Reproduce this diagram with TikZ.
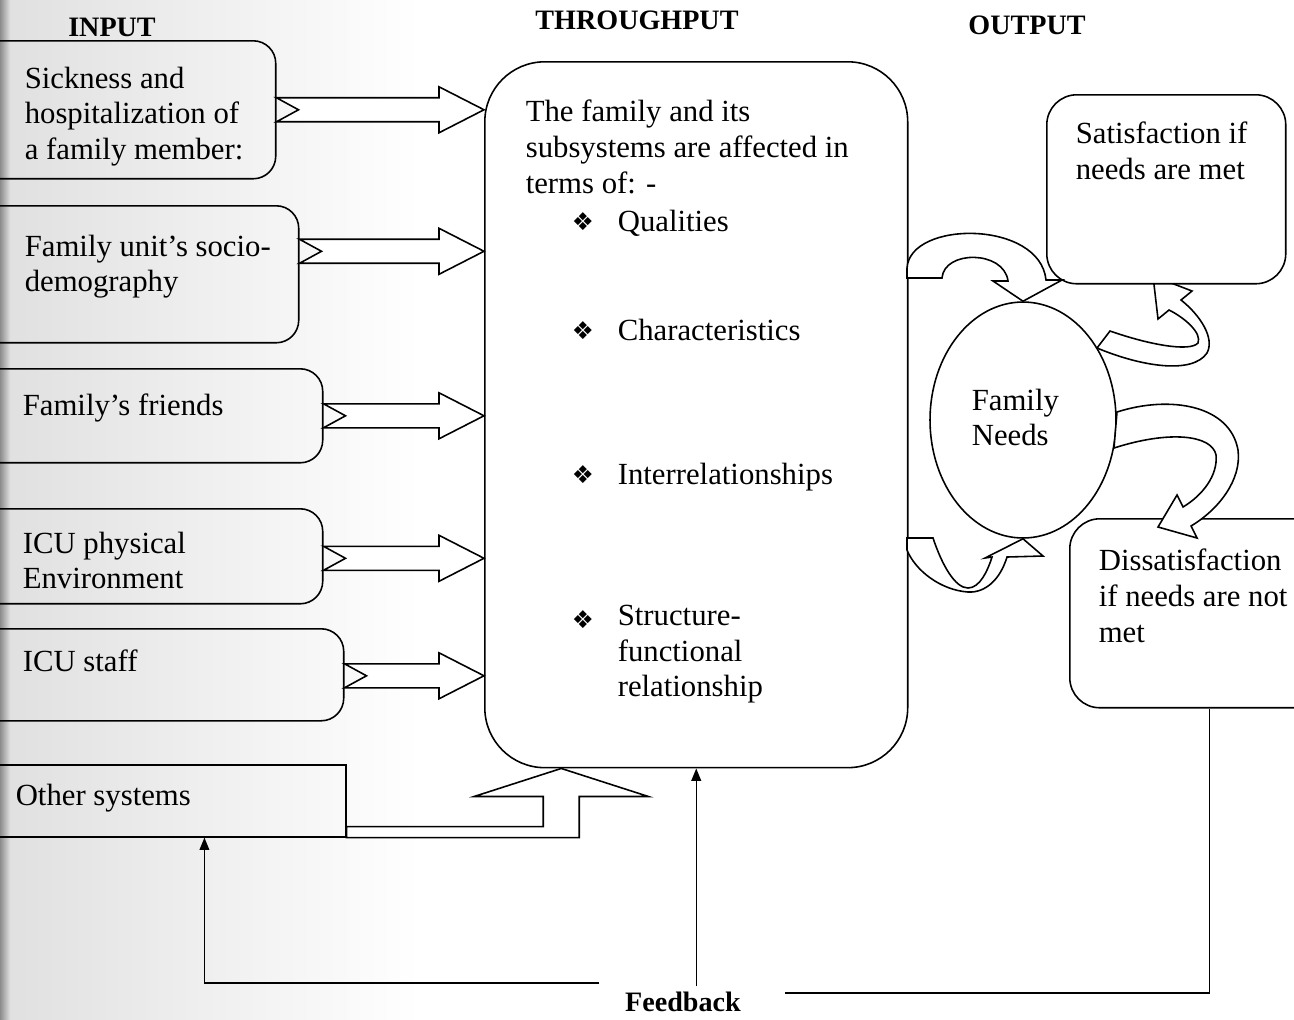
\documentclass[tikz,border=0pt]{standalone}
\usepackage{fontspec}
\setmainfont{Liberation Serif}
\newfontfamily\symfont{DejaVu Sans}
\usetikzlibrary{calc,positioning,shapes.geometric,arrows.meta}

% straight hollow arrow with notched tail, from an input box to the throughput box
\newcommand\fatarrow[2]{%
  \draw[fat] ($(#1.east)+(0,#2-\sw)$) -- ($(tp.west |- #1.east)+(-\hl,#2-\sw)$)
    -- ($(tp.west |- #1.east)+(-\hl,#2-\hw)$) -- ($(tp.west |- #1.east)+(0,#2)$)
    -- ($(tp.west |- #1.east)+(-\hl,#2+\hw)$) -- ($(tp.west |- #1.east)+(-\hl,#2+\sw)$)
    -- ($(#1.east)+(0,#2+\sw)$) -- ($(#1.east)+(\nd,#2)$) -- cycle;}

\begin{document}
\begin{tikzpicture}[x=0.02cm,y=-0.02cm,line width=0.9pt,
    every node/.style={inner sep=0pt},
    txt/.style={anchor=north west,align=left,font=\fontsize{17.5}{20.4}\selectfont,execute at begin node=\strut},
    hd/.style={font=\fontsize{16}{19}\selectfont\bfseries},
    inbox/.style={draw,rounded corners=0.45cm,anchor=north west},
    outbox/.style={draw,fill=white,rounded corners=0.6cm,anchor=north west},
    fat/.style={draw,fill=white,line join=miter},
    bul/.style={font=\symfont\fontsize{14}{16}\selectfont},
    fb/.style={line width=0.8pt},
    fbtip/.style={-{Triangle[length=7pt,width=5.5pt]}}]
    \pgfmathsetmacro\sw{12}
    \pgfmathsetmacro\hw{23}
    \pgfmathsetmacro\hl{45}
    \pgfmathsetmacro\nd{22}
    \useasboundingbox (0,0) rectangle (1294,1019);
    \clip (0,0) rectangle (1294,1019);
    % scanned page edge
    \shade[left color=black!45,right color=black!12] (0,0) rectangle (10,1019);
    \shade[left color=black!12,right color=white] (10,0) rectangle (420,1019);

    % input
    \node[inbox,minimum width=6.30cm,minimum height=2.76cm] (in1) at (-40,40) {};
    \node[inbox,minimum width=6.76cm,minimum height=2.74cm] (in2) at (-40,205) {};
    \node[inbox,minimum width=7.24cm,minimum height=1.88cm] (in3) at (-40,368) {};
    \node[inbox,minimum width=7.24cm,minimum height=1.90cm] (in4) at (-40,508) {};
    \node[inbox,minimum width=7.66cm,minimum height=1.84cm] (in5) at (-40,628) {};
    \node[inbox,sharp corners,minimum width=7.70cm,minimum height=1.44cm] (in6) at (-40,764) {};

    % throughput
    \node[outbox,rounded corners=1.2cm,minimum width=8.46cm,minimum height=14.12cm] (tp) at (484,61) {};
    \fatarrow{in1}{0}
    \fatarrow{in2}{-23}
    \fatarrow{in3}{0}
    \fatarrow{in4}{2}
    \fatarrow{in5}{1}
    \coordinate (ostip) at ($(tp.south)+(-135,0)$);
    \draw[fat] ($(in6.south east)+(0,-11)$) -| ($(ostip)+(-18,28)$) -- ($(ostip)+(-87,28)$)
        -- (ostip) -- ($(ostip)+(87,28)$) -- ($(ostip)+(18,28)$) |- (in6.south east) -- cycle;

    % output
    \node[draw,fill=white,ellipse,minimum width=3.72cm,minimum height=4.72cm] (needs) at (1023,420) {};
    \draw[fat] (1110,331) .. controls (1150,345) and (1190,352) .. (1198,343)
        .. controls (1202,333) and (1185,318) .. (1169,310) -- (1158,319) -- (1153,276)
        -- (1192,291) -- (1181,300) .. controls (1200,315) and (1215,338) .. (1207,353)
        .. controls (1192,375) and (1140,366) .. (1097,348) -- cycle;
    \node[outbox,minimum width=4.78cm,minimum height=3.78cm] (sat) at (1046,94) {};
    \node[outbox,minimum width=5.60cm,minimum height=3.78cm] (dis) at (1069,518) {};
    \draw[fat] (1117,412) .. controls (1170,395) and (1230,405) .. (1238,450)
        .. controls (1242,480) and (1218,510) .. (1191,526) -- (1197,538) -- (1158,527)
        -- (1177,495) -- (1183,507) .. controls (1203,495) and (1218,475) .. (1216,455)
        .. controls (1212,435) and (1170,430) .. (1114,448) -- cycle;
    \draw[fat] (907,278) -- (942,278) .. controls (944,250) and (1004,250) .. (1008,281)
        -- (993,281) -- (needs.north) -- (1062,280) -- (1046,280)
        .. controls (1040,220) and (910,220) .. (907,268) -- cycle;
    \draw[fat] (907,538) -- (933,538) .. controls (942,565) and (955,588) .. (968,588)
        .. controls (980,588) and (988,570) .. (992,557) -- (985,558) -- (needs.south)
        -- (1043,556) -- (1007,557) .. controls (1000,580) and (985,593) .. (968,592)
        .. controls (940,590) and (915,570) .. (907,550) -- cycle;

    % texts
    \node[hd] (hin) at (112,27) {INPUT};
    \node[hd] (htp) at (637,20) {THROUGHPUT};
    \node[hd] (hout) at (1027,25) {OUTPUT};
    \node[txt] (t1) at (24,66) {Sickness and\\hospitalization of\\a family member:};
    \node[txt] (t2) at (24,234) {Family unit’s socio-\\demography};
    \node[txt] (t3) at (22,390) {Family’s friends};
    \node[txt] (t4) at (22,531) {ICU physical\\Environment};
    \node[txt] (t5) at (22,646) {ICU staff};
    \node[txt] (t6) at (15,780) {Other systems};
    \node[txt] (ttp) at (525,99) {The family and its\\subsystems are affected in\\terms of: -};
    \node[bul] (b1) at (583,222) {❖};
    \node[txt] (i1) at (617,206) {Qualities};
    \node[bul] (b2) at (583,331) {❖};
    \node[txt] (i2) at (617,315) {Characteristics};
    \node[bul] (b3) at (583,475) {❖};
    \node[txt] (i3) at (617,459) {Interrelationships};
    \node[bul] (b4) at (583,620) {❖};
    \node[txt] (i4) at (617,604) {Structure-\\functional\\relationship};
    \node[txt] (tneeds) at (971,388) {Family\\Needs};
    \node[txt] (tsat) at (1075,121) {Satisfaction if\\needs are met};
    \node[txt] (tdis) at (1098,548) {Dissatisfaction\\if needs are not\\met};

    % feedback
    \node[hd] (fb) at (683,1002) {Feedback};
    \coordinate (fbl) at ($(fb.west)+(-25,-19)$);
    \coordinate (fbr) at ($(fb.east)+(43,-9)$);
    \draw[fb] (fbl) -- ++(-395,0) coordinate (fbo);
    \draw[fb,fbtip] (fbo) -- (fbo |- in6.south);
    \draw[fb,fbtip] ($(tp.south)+(0,218)$) -- (tp.south);
    \draw[fb] (dis.south) -- (dis.south |- fbr) -- (fbr);
\end{tikzpicture}
\end{document}
